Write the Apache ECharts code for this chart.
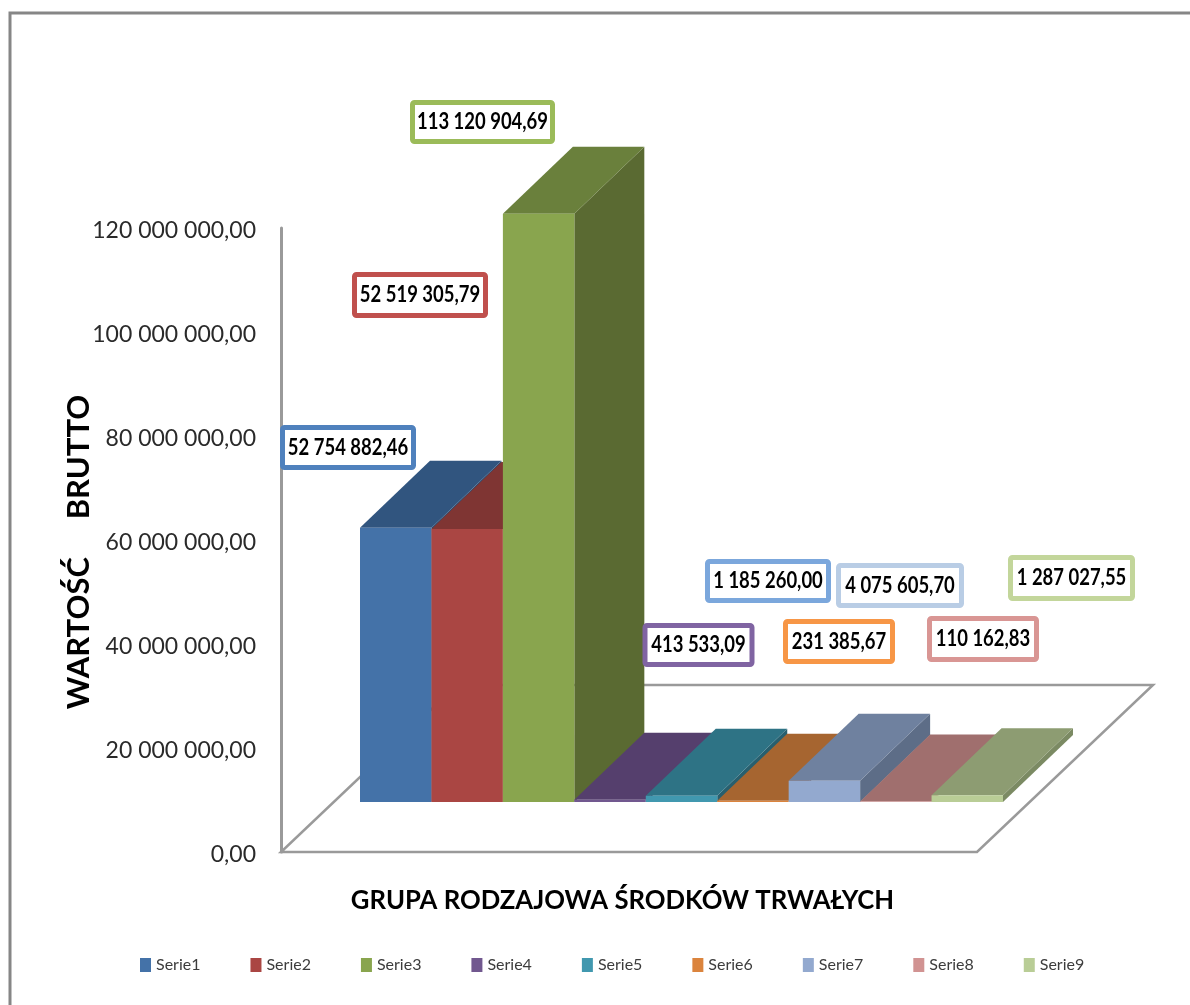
<!DOCTYPE html>
<html>
<head>
<meta charset="utf-8">
<title>Wartość brutto</title>
<script src="https://cdn.jsdelivr.net/npm/echarts@6/dist/echarts.min.js"></script>
<style>
  html, body { margin: 0; padding: 0; background: #fff; }
  #chart { width: 1190px; height: 1005px; }
</style>
</head>
<body>
<div id="chart"></div>
<script>
const categories = ['Serie1', 'Serie2', 'Serie3', 'Serie4', 'Serie5', 'Serie6', 'Serie7', 'Serie8', 'Serie9']
const values = [52754882.46, 52519305.79, 113120904.69, 413533.09, 1185260.00, 231385.67, 4075605.70, 110162.83, 1287027.55]
const yTicks = { min: 0, max: 120000000, interval: 20000000 }

// kolory: przod, gora, bok, ramka etykiety
const frontColors = ['#4472a8', '#aa4643', '#89a54e', '#71588f', '#4198af', '#db843d', '#93a9cf', '#d19392', '#b9cd96']
const topColors = ['#31557f', '#7f3533', '#6a803c', '#553f6d', '#2e7385', '#a66530', '#6f819f', '#a06f6e', '#8d9c72']
const sideColors = ['#2a4a70', '#702e2c', '#5a6a32', '#4a375f', '#285f6e', '#8e5629', '#5d6d87', '#8b605f', '#7b8a63']
const labelColors = ['#4f81bd', '#c0504d', '#9bbb59', '#8064a2', '#7ba7dc', '#f79646', '#b9cde5', '#d99694', '#c3d69b']
// ramki etykiet: x, y, szerokosc, wysokosc
const labelBoxes = [
  [282.5, 427.5, 131, 40], [354.5, 274.5, 131, 41], [412.5, 102.5, 140, 39], [645, 625.5, 107, 39], [707.5, 561.5, 121, 39],
  [785.5, 621.5, 107, 40], [838.5, 565.5, 123, 40], [929.5, 618.5, 107, 41], [1010.5, 557.5, 122, 41]
]

// przesuniecie przedniej sciany wzgledem osi i glebokosc slupka
const shiftX = 79
const shiftY = 50
const depthX = 70
const depthY = 67

function fmt(v, dec) {
  const parts = v.toFixed(dec).split('.')
  return parts[0].replace(/\B(?=(\d{3})+$)/g, ' ') + ',' + parts[1]
}

function renderBar(params, api) {
  const i = params.seriesIndex
  const base = api.coord([api.value(0), 0])
  const top = api.coord([api.value(0), api.value(1)])
  const w = api.size([1, 0])[0]
  const x0 = base[0] - w / 2
  const x1 = x0 + w
  const y0 = base[1] - shiftY
  const y1 = top[1] - shiftY
  const box = labelBoxes[i]
  return {
    type: 'group',
    children: [
      {
        type: 'polygon',
        shape: { points: [[x1, y0], [x1 + depthX, y0 - depthY], [x1 + depthX, y1 - depthY], [x1, y1]] },
        style: { fill: sideColors[i] }
      },
      {
        type: 'polygon',
        shape: { points: [[x0, y1], [x1, y1], [x1 + depthX, y1 - depthY], [x0 + depthX, y1 - depthY]] },
        style: { fill: topColors[i] }
      },
      {
        type: 'rect',
        shape: { x: x0, y: y1, width: w, height: y0 - y1 },
        style: { fill: frontColors[i] }
      },
      {
        type: 'rect',
        z2: 50,
        shape: { x: box[0], y: box[1], width: box[2], height: box[3], r: 2 },
        style: { fill: '#fff', stroke: labelColors[i], lineWidth: 5 }
      },
      {
        type: 'text',
        z2: 51,
        x: box[0] + box[2] / 2,
        y: box[1] + box[3] / 2,
        scaleX: 0.82,
        style: {
          text: fmt(api.value(1), 2),
          fill: '#000',
          font: 'bold 22.5px Lato',
          align: 'center',
          verticalAlign: 'middle'
        }
      }
    ]
  }
}

const chart = echarts.init(document.getElementById('chart'))
chart.setOption({
  animation: false,
  backgroundColor: '#fff',
  grid: { left: 360, top: 228, width: 643, height: 624 },
  legend: {
    left: 135,
    top: 952,
    data: categories,
    icon: 'rect',
    itemWidth: 11,
    itemHeight: 14,
    itemGap: 50,
    selectedMode: false,
    textStyle: { fontFamily: 'Lato', fontSize: 16, color: '#3c3c3c' }
  },
  xAxis: {
    type: 'category',
    data: categories,
    axisLine: { show: false },
    axisTick: { show: false },
    axisLabel: { show: false },
    name: 'GRUPA RODZAJOWA ŚRODKÓW TRWAŁYCH',
    nameLocation: 'middle',
    nameGap: 36,
    nameTextStyle: { fontFamily: 'Lato', fontWeight: 'bold', fontSize: 25.7, color: '#000', padding: [0, 118, 0, 0] }
  },
  yAxis: {
    type: 'value',
    min: yTicks.min,
    max: yTicks.max,
    interval: yTicks.interval,
    offset: shiftX,
    splitLine: { show: false },
    axisTick: { show: false },
    axisLine: { show: true, lineStyle: { color: '#9a9a9a', width: 3 } },
    axisLabel: {
      margin: 25,
      fontFamily: 'Lato',
      fontSize: 23,
      color: '#2a2a2a',
      verticalAlign: 'top',
      lineHeight: 6,
      formatter: function (v) { return fmt(v, 2) }
    },
    name: 'WARTOŚĆ     BRUTTO',
    nameLocation: 'middle',
    nameMoveOverlap: false,
    nameGap: 187,
    nameTextStyle: { fontFamily: 'Lato', fontWeight: 'bold', fontSize: 31, color: '#000', padding: [0, 24, 0, 0] }
  },
  graphic: [
    {
      type: 'polyline',
      z: 0,
      shape: { points: [[10, 1005], [10, 13], [1190, 13]] },
      style: { stroke: '#868686', lineWidth: 3, fill: null }
    },
    {
      type: 'polygon',
      z: 0,
      shape: { points: [[281, 852], [977, 852], [1153, 685], [457, 685]] },
      style: { stroke: '#9a9a9a', lineWidth: 2.5, fill: '#fff' }
    }
  ],
  series: categories.map(function (name, i) {
    return {
      name: name,
      type: 'custom',
      z: 2,
      renderItem: renderBar,
      itemStyle: { color: frontColors[i] },
      encode: { x: 0, y: 1 },
      data: [[i, values[i]]]
    }
  })
})
</script>
</body>
</html>
